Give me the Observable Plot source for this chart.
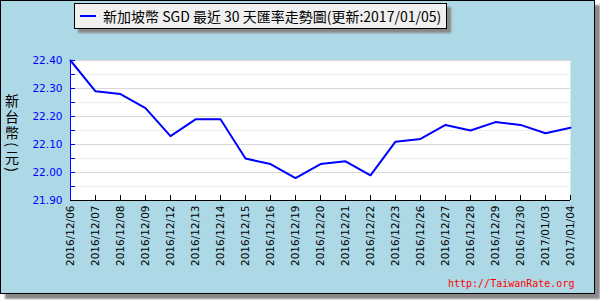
<!DOCTYPE html>
<html><head><meta charset="utf-8">
<script src="https://cdn.jsdelivr.net/npm/d3@7"></script>
<script src="https://cdn.jsdelivr.net/npm/@observablehq/plot@0.6"></script>
<style>
body{margin:0;background:#fff;}
#frame{position:absolute;left:0;top:0;width:593px;height:292px;border:1px solid #000;background:#add8e6;box-shadow:5px 5px 2px #888;}
#chart{position:absolute;left:0;top:0;}
#title{position:absolute;left:73px;top:2px;width:371px;height:24px;border:1px solid #000;background:#f0f0f0;box-shadow:4px 4px 2px #888;display:flex;align-items:center;font:14px "Noto Sans CJK TC";color:#000;white-space:pre;}
#title .sw{display:inline-block;width:16px;height:2px;background:#0000ff;margin-left:5px;margin-right:7px;}
#ylab{position:absolute;left:3px;top:91px;width:16px;display:flex;flex-direction:column;align-items:center;font:14px "Noto Sans CJK TC";color:#000;}
#ylab span{display:block;height:16px;line-height:16px;text-align:center;}
#ylab span.p{height:9px;line-height:9px;transform:rotate(90deg);}
#wm{position:absolute;left:447px;top:277px;font:10px "DejaVu Sans Mono";color:#ff0000;}
</style>
</head><body>
<div id="frame">
  <div id="chart"></div>
  <div id="title"><span class="sw"></span><span id="ttext"></span></div>
  <div id="ylab"></div>
  <div id="wm"></div>
</div>
<script>
const titleText = "新加坡幣 SGD 最近 30 天匯率走勢圖(更新:2017/01/05)";
const yLabel = "新台幣(元)";
const watermark = "http://TaiwanRate.org";
const dates = ["2016/12/06","2016/12/07","2016/12/08","2016/12/09","2016/12/12","2016/12/13","2016/12/14","2016/12/15","2016/12/16","2016/12/19","2016/12/20","2016/12/21","2016/12/22","2016/12/23","2016/12/26","2016/12/27","2016/12/28","2016/12/29","2016/12/30","2017/01/03","2017/01/04"];
const rates = [22.40,22.29,22.28,22.23,22.13,22.19,22.19,22.05,22.03,21.98,22.03,22.04,21.99,22.11,22.12,22.17,22.15,22.18,22.17,22.14,22.16];
const yMajor = [21.90,22.00,22.10,22.20,22.30,22.40];
const yMinor = [21.95,22.05,22.15,22.25,22.35];
const yDomain = [21.90,22.40];

document.getElementById("ttext").textContent = titleText;
document.getElementById("wm").textContent = watermark;
const yl = document.getElementById("ylab");
for (const ch of yLabel) {
  const s = document.createElement("span");
  s.textContent = ch;
  if (ch === "(" || ch === ")") s.className = "p";
  yl.appendChild(s);
}

const data = dates.map((d,i)=>({date:d, rate:rates[i]}));
const yAll = yMajor.concat(yMinor);

const chart = Plot.plot({
  width:593, height:292,
  marginLeft:69, marginRight:24, marginTop:59, marginBottom:93,
  style:{background:"transparent", fontFamily:"DejaVu Sans", fontSize:"10.5px", overflow:"visible"},
  x:{type:"point", domain:dates, padding:0},
  y:{domain:yDomain},
  marks:[
    Plot.frame({fill:"white", stroke:null}),
    Plot.ruleY(yMinor,{stroke:"#eeeeee", strokeWidth:1}),
    Plot.ruleY(yMajor,{stroke:"#d8d8d8", strokeWidth:1}),
    Plot.ruleY(yAll,{y:d=>d, x1:()=>dates[0], x2:()=>dates[0], stroke:"#0000ff", insetRight:-5}),
    Plot.ruleX(dates,{x:d=>d, y1:()=>yDomain[0], y2:()=>yDomain[0], stroke:"#000", insetTop:-5}),
    Plot.line(data,{x:"date", y:"rate", stroke:"#0000ff", strokeWidth:2}),
    Plot.ruleY([yDomain[0]],{stroke:"#000"}),
    Plot.ruleX([dates[0]],{stroke:"#0000ff"}),
    Plot.axisY({ticks:yMajor, tickFormat:d3.format(".2f"), tickSize:0, tickPadding:8, color:"#0000ff", label:null}),
    Plot.axisX({tickRotate:-90, tickSize:0, tickPadding:5, color:"#000", label:null})
  ]
});
document.getElementById("chart").appendChild(chart);
</script>
</body></html>
